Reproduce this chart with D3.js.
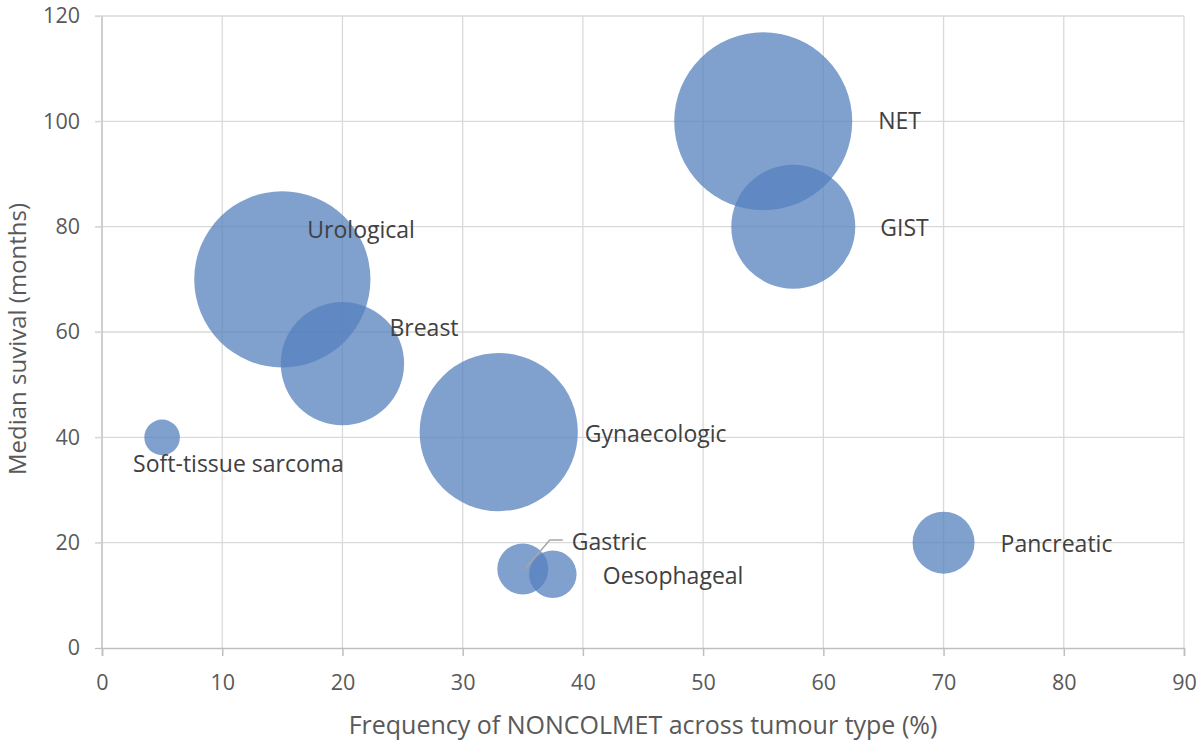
<!DOCTYPE html>
<html>
<head>
<meta charset="utf-8">
<script src="https://cdn.jsdelivr.net/npm/d3@7"></script>
<style>
  body { margin: 0; background: #fff; }
  text { font-family: "Open Sans", "Noto Sans", sans-serif; }
</style>
</head>
<body>
<div id="chart-area"></div>
<script>
// data
const tumours   = ["Soft-tissue sarcoma", "Urological", "Breast", "Gynaecologic", "Gastric", "Oesophageal", "NET", "GIST", "Pancreatic"]
const frequency = [5, 15, 20, 33, 35, 37.5, 55, 57.5, 70]
const survival  = [40, 70, 54, 41, 15, 14, 100, 80, 20]
const bubbleSize = [4, 98, 48, 79, 8.2, 7.1, 100, 48.5, 12.1]
const xTicks = [0, 10, 20, 30, 40, 50, 60, 70, 80, 90]
const yTicks = [0, 20, 40, 60, 80, 100, 120]

// label placement (pixel offsets from bubble centre), hand-placed like the original
const labelOffset = {
  "Soft-tissue sarcoma": [-29, 27],
  "Urological": [25, -49],
  "Breast": [47, -36],
  "Gynaecologic": [86, 2],
  "Gastric": [49, -27],
  "Oesophageal": [50, 2],
  "NET": [115, 0],
  "GIST": [87, 1],
  "Pancreatic": [57, 1]
}

const MARGIN = { LEFT: 102, RIGHT: 16, TOP: 16, BOTTOM: 93 }
const WIDTH = 1200 - MARGIN.LEFT - MARGIN.RIGHT
const HEIGHT = 741 - MARGIN.TOP - MARGIN.BOTTOM

const svg = d3.select("#chart-area").append("svg")
    .attr("width", 1200)
    .attr("height", 741)

const g = svg.append("g")
    .attr("transform", `translate(${MARGIN.LEFT},${MARGIN.TOP})`)

const x = d3.scaleLinear().domain([0, 90]).range([0, WIDTH])
const y = d3.scaleLinear().domain([0, 120]).range([HEIGHT, 0])
const r = d3.scaleSqrt().domain([0, 100]).range([0, 89])

// gridlines
g.append("g").selectAll("line")
    .data(xTicks.slice(1))
    .enter().append("line")
    .attr("x1", d => x(d)).attr("x2", d => x(d))
    .attr("y1", 0).attr("y2", HEIGHT)
    .attr("stroke", "#d9d9d9").attr("stroke-width", 1.3)

g.append("g").selectAll("line")
    .data(yTicks.slice(1))
    .enter().append("line")
    .attr("x1", -7).attr("x2", WIDTH)
    .attr("y1", d => y(d)).attr("y2", d => y(d))
    .attr("stroke", "#d9d9d9").attr("stroke-width", 1.3)

// axes
const xAxis = g.append("g")
    .attr("transform", `translate(0,${HEIGHT})`)
    .call(d3.axisBottom(x).tickValues(xTicks).tickSize(8).tickPadding(19))
const yAxis = g.append("g")
    .call(d3.axisLeft(y).tickValues(yTicks).tickSize(7).tickPadding(15))

;[xAxis, yAxis].forEach(a => {
  a.select(".domain").attr("stroke", "#bfbfbf").attr("stroke-width", 1.5)
  a.selectAll(".tick line").attr("stroke", "#bfbfbf").attr("stroke-width", 1.5)
  a.selectAll(".tick text").attr("fill", "#595959").style("font-size", "21.5px")
})
yAxis.select(".domain").attr("d", `M0,${HEIGHT}V0`)
yAxis.selectAll(".tick line").attr("stroke", "#d9d9d9").attr("stroke-width", 1.3)
yAxis.select(".tick line").attr("stroke", "#bfbfbf")

const data = tumours.map((t, i) => ({
  name: t, fx: frequency[i], sv: survival[i], size: bubbleSize[i]
}))

// bubbles
g.append("g").selectAll("circle")
    .data(data)
    .enter().append("circle")
    .attr("cx", d => x(d.fx))
    .attr("cy", d => y(d.sv))
    .attr("r", d => r(d.size))
    .attr("fill", "rgb(86,128,190)")
    .attr("fill-opacity", 0.75)

// leader line for Gastric
const gas = data.find(d => d.name === "Gastric")
const go = labelOffset["Gastric"]
g.append("path")
    .attr("d", `M${x(gas.fx) + 2},${y(gas.sv)} L${x(gas.fx) + go[0] - 22},${y(gas.sv) + go[1] - 2} H${x(gas.fx) + go[0] - 9}`)
    .attr("fill", "none")
    .attr("stroke", "#a6a6a6")
    .attr("stroke-width", 1.5)

// data labels
g.append("g").selectAll("text")
    .data(data)
    .enter().append("text")
    .attr("x", d => x(d.fx) + labelOffset[d.name][0])
    .attr("y", d => y(d.sv) + labelOffset[d.name][1])
    .attr("dy", "0.35em")
    .attr("fill", "#404040")
    .style("font-size", "23px")
    .text(d => d.name)

// axis titles
svg.append("text")
    .attr("x", MARGIN.LEFT + WIDTH / 2)
    .attr("y", 725)
    .attr("dy", "0.35em")
    .attr("text-anchor", "middle")
    .attr("fill", "#595959")
    .style("font-size", "25px")
    .text("Frequency of NONCOLMET across tumour type (%)")

svg.append("text")
    .attr("transform", "translate(26,339) rotate(-90)")
    .attr("text-anchor", "middle")
    .attr("fill", "#595959")
    .style("font-size", "24px")
    .text("Median suvival (months)")
</script>
</body>
</html>
